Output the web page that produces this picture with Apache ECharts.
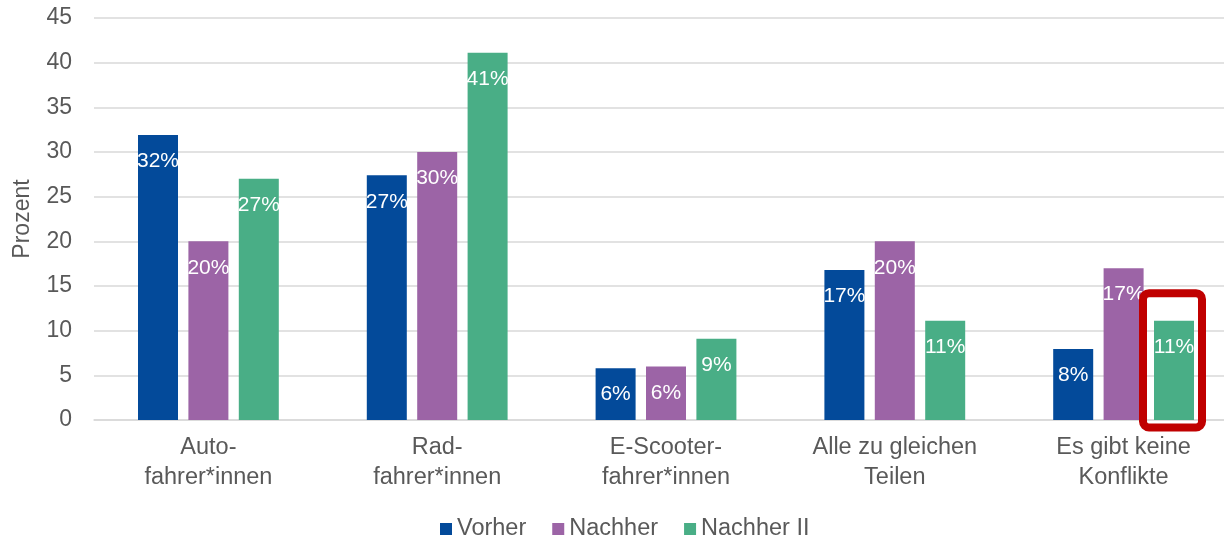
<!DOCTYPE html>
<html><head><meta charset="utf-8">
<script src="https://cdn.jsdelivr.net/npm/echarts@6/dist/echarts.min.js"></script>
<style>html,body{margin:0;padding:0;background:#fff;overflow:hidden}#c{width:1224px;height:539px}</style>
</head><body><div id="c"></div>
<script>
const categories = ['Auto-\nfahrer*innen','Rad-\nfahrer*innen','E-Scooter-\nfahrer*innen','Alle zu gleichen\nTeilen','Es gibt keine\nKonflikte'];
const vorher = [31.9, 27.4, 5.8, 16.8, 7.95];
const nachher = [20.0, 30.0, 6.0, 20.0, 17.0];
const nachher2 = [27.0, 41.1, 9.1, 11.1, 11.1];
const yTicks = {min: 0, max: 45, interval: 5};

const font = 'Liberation Sans, Arial, sans-serif';
const chart = echarts.init(document.getElementById('c'));
const lbl = {
  show: true, position: 'insideTop', distance: 16, color: '#fff',
  fontSize: 21, fontFamily: font,
  formatter: p => Math.round(p.value) + '%'
};
function ser(name, data, color) {
  return {name, type: 'bar', data, barWidth: 40, barGap: '26%',
    itemStyle: {color}, label: lbl, labelLayout: {hideOverlap: false}, emphasis: {disabled: true}};
}
chart.setOption({
  animation: false,
  textStyle: {fontFamily: font},
  grid: {left: 94, right: -14, top: 18, bottom: 119, containLabel: false, outerBoundsMode: 'none'},
  legend: {
    top: 512, left: 435, itemWidth: 12, itemHeight: 12, itemGap: 26,
    icon: 'rect',
    textStyle: {fontSize: 23.5, color: '#595959', fontFamily: font},
    data: ['Vorher', 'Nachher', 'Nachher II']
  },
  xAxis: {
    type: 'category', data: categories,
    axisLine: {lineStyle: {color: '#d9d9d9', width: 1.5}},
    axisTick: {show: false},
    axisLabel: {fontSize: 23.5, color: '#595959', lineHeight: 30, margin: 13, fontFamily: font, interval: 0}
  },
  yAxis: {
    type: 'value', min: yTicks.min, max: yTicks.max, interval: yTicks.interval,
    name: 'Prozent', nameLocation: 'middle', nameGap: 60,
    nameTextStyle: {fontSize: 23, color: '#595959', fontFamily: font},
    axisLine: {show: false}, axisTick: {show: false},
    axisLabel: {fontSize: 23, color: '#595959', margin: 22, fontFamily: font},
    splitLine: {lineStyle: {color: '#d9d9d9', width: 1.5}}
  },
  series: [
    ser('Vorher', vorher, '#034a9a'),
    ser('Nachher', nachher, '#9c64a6'),
    ser('Nachher II', nachher2, '#49ae86')
  ]
});
// red highlight box around last Nachher II bar
const idx = categories.length - 1;
const bw = chart.getModel().getSeriesByIndex(2).getData().getItemLayout(idx);
const x0 = bw.x - 11, x1 = bw.x + bw.width + 8;
const yTop = chart.convertToPixel({yAxisIndex: 0}, 14.2);
const yBot = chart.convertToPixel({yAxisIndex: 0}, 0) + 7.5;
chart.setOption({
  graphic: [{type: 'rect', shape: {x: x0, y: yTop, width: x1 - x0, height: yBot - yTop, r: 6},
    style: {fill: 'none', stroke: '#c00000', lineWidth: 8}, z: 100}]
});
</script></body></html>
